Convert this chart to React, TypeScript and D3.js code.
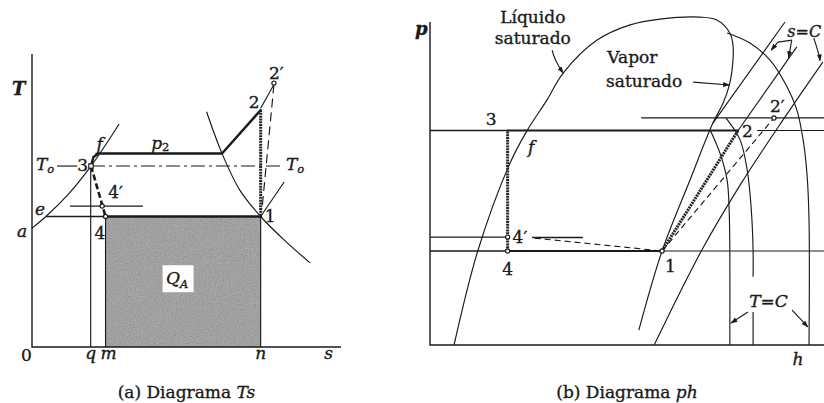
import React from 'react';
import * as d3 from 'd3';

type Pt = [number, number];

// ---------- (a) T-s diagram, entropy s and temperature T in diagram units ----------
const S_Q = 1.9;
const S_M = 2.38;
const S_N = 7.4;
const T_LOW = 4.5;
const T_O = 6.24;
const T_P2 = 6.67;
const T_2 = 8.17;

const tsPt3: Pt = [1.91, 6.24];
const tsPt4: Pt = [2.38, 4.5];
const tsPt4p: Pt = [2.27, 4.86];
const tsPt1: Pt = [7.4, 4.5];
const tsPt2: Pt = [7.4, 8.17];
const tsPt2p: Pt = [7.83, 9.1];
const tsPtE: Pt = [0.45, 4.5];

const tsSatLiquid: Pt[] = [[0, 4.1], [0.45, 4.5], [1.2, 5.3], [1.91, 6.24], [2.4, 7.0], [2.82, 7.69]];
const tsSatVapor: Pt[] = [[5.65, 8.11], [6.15, 6.67], [6.72, 5.42], [7.4, 4.5], [8.2, 3.65], [9.0, 2.9]];
const tsCondenser: Pt[] = [[1.91, 6.24], [1.99, 6.55], [2.15, 6.67], [6.15, 6.67], [7.4, 8.17]];
const tsLowPressure: Pt[] = [[7.4, 4.5], [8.16, 5.69]];
const tsToLine: Pt[] = [[1.91, T_O], [8.12, T_O]];
const tsToStub: Pt[] = [[0.81, T_O], [1.46, T_O]];
const ts4pLine: Pt[] = [[1.23, 4.86], [3.59, 4.86]];
const ts2to2p: Pt[] = [[7.4, 8.23], [7.83, 9.05]];
const ts2pDrop: Pt[] = [[7.83, 9.05], [7.44, 4.72]];

// ---------- (b) p-h diagram, enthalpy h and pressure p in diagram units ----------
const P_HI = 6.64;
const P_2P = 7.03;
const P_LO = 2.91;
const P_4P = 3.34;
const H_34 = 1.97;
const H_1 = 5.89;
const H_2 = 7.82;
const H_2P = 8.73;

const phDome: Pt[] = [
  [0.61, 0], [1.22, 2.94], [2.03, 5.63], [2.46, 6.63], [2.97, 7.59], [3.38, 8.42], [4.24, 9.44],
  [5.08, 9.91], [5.84, 10.09], [6.85, 10.15], [7.28, 10.06], [7.61, 9.66], [7.69, 9.29], [7.69, 8.82],
  [7.61, 8.11], [7.44, 7.49], [7.18, 6.87], [6.6, 5.11], [5.89, 2.91], [5.3, 0.46],
];
const phIsentropeA: Pt[] = [[7.18, 6.87], [9.01, 10.0]];
const phIsentropeB: Pt[] = [[7.82, 6.64], [9.31, 9.23]];
const phIsentropeC: Pt[] = [[5.69, 0], [6.9, 2.94], [7.87, 4.95], [8.96, 6.97], [9.97, 8.76]];
const phIsothermA: Pt[] = [[7.11, 6.66], [7.36, 5.94], [7.54, 5.11], [7.59, 4.27], [7.61, 2.94], [7.61, 0]];
const phIsothermBTop: Pt[] = [[7.51, 7.03], [7.87, 6.35], [8.05, 5.42], [8.15, 4.27], [8.2, 2.94], [8.2, 2.11]];
const phIsothermBBottom: Pt[] = [[8.2, 1.02], [8.2, 0]];
const phIsothermC: Pt[] = [
  [7.54, 9.66], [8.12, 9.35], [8.63, 8.82], [9.01, 8.11], [9.31, 7.28], [9.47, 6.35], [9.57, 5.26], [9.62, 3.87], [9.62, 0],
];
const phCompression: Pt[] = [[H_1, P_LO], [H_2, P_HI]];
const phActualCompression: Pt[] = [[H_1, P_LO], [H_2P, P_2P]];
const phThrottle: Pt[] = [[H_34, P_LO], [H_34, P_HI]];
const ph4pDash: Pt[] = [[2.66, 3.31], [H_1, P_LO]];
const ph4pStub: Pt[] = [[2.59, 3.33], [3.88, 3.33]];

// ---------- scales ----------
const xs = d3.scaleLinear().domain([0, 10]).range([32, 341]);
const ys = d3.scaleLinear().domain([0, 10]).range([347, 57]);
const xp = d3.scaleLinear().domain([0, 10]).range([430, 824]);
const yp = d3.scaleLinear().domain([0, 10]).range([345, 22]);

const tsLine = d3.line<Pt>().x((d) => xs(d[0])).y((d) => ys(d[1]));
const tsCurve = d3.line<Pt>().x((d) => xs(d[0])).y((d) => ys(d[1])).curve(d3.curveCatmullRom.alpha(0.5));
const phLine = d3.line<Pt>().x((d) => xp(d[0])).y((d) => yp(d[1]));
const phCurve = d3.line<Pt>().x((d) => xp(d[0])).y((d) => yp(d[1])).curve(d3.curveCatmullRom.alpha(0.5));

const INK = '#1a1a1a';
const FONT = "'DejaVu Serif', 'Liberation Serif', serif";
const FS = 17;
const SUB = 11.5;

const thin = { fill: 'none', stroke: INK, strokeWidth: 1.15 };
const thick = { fill: 'none', stroke: INK, strokeWidth: 2.4, strokeLinecap: 'round' as const, strokeLinejoin: 'round' as const };
const stipple = { fill: 'none', stroke: '#262626', strokeWidth: 3, strokeDasharray: '2 0.8' };
const dashed = { fill: 'none', stroke: INK, strokeWidth: 1.15, strokeDasharray: '6 4' };

const Dot = ({ x, y }: { x: number; y: number }) => (
  <circle cx={x} cy={y} r={2.1} fill="#fff" stroke={INK} strokeWidth={1.2} />
);

const hseg = (a: number, b: number, y: number): Pt[] => [[a, y], [b, y]];

export default function App() {
  const qaX = (xs(S_M) + xs(S_N)) / 2 - 5;
  const qaY = ys(T_LOW / 2) - 3;
  return (
    <svg
      width={824}
      height={403}
      viewBox="0 0 824 403"
      style={{ position: 'absolute', left: 0, top: 0, background: '#fff' }}
      fontFamily={FONT}
      fill={INK}
    >
      <style>{`text { stroke: ${INK}; stroke-width: 0.35px; }`}</style>
      <defs>
        <marker id="arrow" viewBox="0 0 10 10" refX="9" refY="5" markerWidth="7" markerHeight="7" orient="auto" markerUnits="userSpaceOnUse">
          <path d="M0,1.5 L10,5 L0,8.5 Z" fill={INK} />
        </marker>
        <filter id="grain" x="0" y="0" width="1" height="1">
          <feTurbulence type="fractalNoise" baseFrequency="0.85" numOctaves="2" seed="7" />
          <feColorMatrix type="matrix" values="0.33 0.33 0.33 0 0  0.33 0.33 0.33 0 0  0.33 0.33 0.33 0 0  0 0 0 0 1" />
        </filter>
      </defs>

      {/* ================= (a) T-s ================= */}
      {/* heat absorbed Q_A */}
      <rect x={xs(S_M)} y={ys(T_LOW)} width={xs(S_N) - xs(S_M)} height={ys(0) - ys(T_LOW)} fill="#878787" />
      <rect x={xs(S_M)} y={ys(T_LOW)} width={xs(S_N) - xs(S_M)} height={ys(0) - ys(T_LOW)} filter="url(#grain)" opacity={0.5} />
      <rect x={qaX - 15.5} y={qaY - 13.5} width={31} height={27} fill="#fff" />
      <text x={qaX - 12} y={qaY + 5} fontSize={FS} fontStyle="italic">
        Q<tspan fontSize={SUB} dy={4}>A</tspan>
      </text>
      <path d={tsLine([[S_M, 0], [S_M, T_LOW]])!} {...thin} />
      <path d={tsLine([[S_N, 0], [S_N, T_LOW]])!} {...thin} />

      {/* axes */}
      <path d={tsLine([[0, 10.1], [0, 0], [10, 0]])!} fill="none" stroke={INK} strokeWidth={1.4} />
      <path d={tsLine([[S_Q, 0], [S_Q, T_O]])!} {...thin} />

      {/* saturation curves */}
      <path d={tsCurve(tsSatLiquid)!} {...thin} />
      <path d={tsCurve(tsSatVapor)!} {...thin} />

      {/* isobars and reference lines */}
      <path d={tsLine(hseg(tsPtE[0], S_M, T_LOW))!} {...thin} strokeWidth={1.6} />
      <path d={tsLine(hseg(S_M, S_N, T_LOW))!} {...thick} />
      <path d={tsLine(ts4pLine)!} {...thin} />
      <path d={tsLine(tsLowPressure)!} {...thin} />
      <path d={tsLine(tsToStub)!} {...thin} />
      <path d={tsLine(tsToLine)!} fill="none" stroke={INK} strokeWidth={1.15} strokeDasharray="14 4 3 4" />

      {/* cycle */}
      <path d={tsLine(tsCondenser)!} {...thick} />
      <path d={tsLine([tsPt2, tsPt1])!} {...stipple} />
      <path d={tsLine([tsPt3, tsPt4])!} fill="none" stroke={INK} strokeWidth={2.6} strokeDasharray="6 3" />
      <path d={tsLine(ts2to2p)!} {...thin} />
      <path d={tsLine(ts2pDrop)!} {...dashed} strokeDasharray="9 5" />

      <rect x={xs(tsPt3[0]) - 2.2} y={ys(tsPt3[1]) - 2.2} width={4.4} height={4.4} fill="#fff" stroke={INK} strokeWidth={1.2} />
      <Dot x={xs(tsPt4p[0])} y={ys(tsPt4p[1])} />
      <Dot x={xs(tsPt4[0])} y={ys(tsPt4[1])} />
      <Dot x={xs(tsPt2p[0])} y={ys(tsPt2p[1])} />

      {/* labels */}
      <text x={xs(0) - 20} y={ys(8.7)} fontSize={18} fontStyle="italic" fontWeight="bold">T</text>
      <text x={xs(tsPt3[0]) - 55} y={ys(T_O) + 4} fontSize={FS} fontStyle="italic">
        T<tspan fontSize={SUB} dy={3}>o</tspan>
      </text>
      <text x={xs(tsPt3[0]) - 3} y={ys(T_O) + 5} fontSize={FS} textAnchor="end">3</text>
      <text x={xs(2.15) - 2} y={ys(T_P2) - 4} fontSize={FS} fontStyle="italic">f</text>
      <text x={(xs(2.15) + xs(6.15)) / 2} y={ys(T_P2) - 5} fontSize={FS} fontStyle="italic" textAnchor="middle">
        p<tspan fontSize={SUB} dy={2} fontStyle="normal">2</tspan>
      </text>
      <text x={xs(tsPt4p[0]) + 6} y={ys(tsPt4p[1]) - 8} fontSize={FS}>4′</text>
      <text x={xs(tsPt4[0]) - 11} y={ys(T_LOW) + 22} fontSize={FS}>4</text>
      <text x={xs(tsPtE[0]) - 11} y={ys(T_LOW) - 2} fontSize={FS} fontStyle="italic">e</text>
      <text x={xs(0) - 15} y={ys(4.1) + 9} fontSize={FS} fontStyle="italic">a</text>
      <text x={xs(0) - 11} y={ys(0) + 14} fontSize={FS}>0</text>
      <text x={xs(S_Q)} y={ys(0) + 12} fontSize={FS} fontStyle="italic" textAnchor="middle">q</text>
      <text x={xs(S_M) + 3} y={ys(0) + 12} fontSize={FS} fontStyle="italic" textAnchor="middle">m</text>
      <text x={xs(S_N)} y={ys(0) + 12} fontSize={FS} fontStyle="italic" textAnchor="middle">n</text>
      <text x={xs(9.6)} y={ys(0) + 12} fontSize={FS} fontStyle="italic" textAnchor="middle">s</text>
      <text x={xs(S_N) - 12} y={ys(T_2) - 2} fontSize={FS}>2</text>
      <text x={xs(tsPt2p[0]) - 5} y={ys(tsPt2p[1]) - 4} fontSize={FS}>2′</text>
      <text x={xs(8.12) + 3} y={ys(T_O) + 4} fontSize={FS} fontStyle="italic">
        T<tspan fontSize={SUB} dy={3}>o</tspan>
      </text>
      <text x={xs(S_N) + 4} y={ys(T_LOW) + 5} fontSize={FS}>1</text>
      <text x={xs(5)} y={398} fontSize={17} textAnchor="middle">
        (a) Diagrama <tspan fontStyle="italic">Ts</tspan>
      </text>

      {/* ================= (b) p-h ================= */}
      <path d={phLine([[0, 10], [0, 0], [10, 0]])!} fill="none" stroke={INK} strokeWidth={1.4} />
      <path d={phCurve(phDome)!} {...thin} />
      <path d={phLine(phIsentropeA)!} {...thin} />
      <path d={phLine(phIsentropeB)!} {...thin} />
      <path d={phCurve(phIsentropeC)!} {...thin} />
      <path d={phCurve(phIsothermA)!} {...thin} />
      <path d={phCurve(phIsothermBTop)!} {...thin} />
      <path d={phLine(phIsothermBBottom)!} {...thin} />
      <path d={phCurve(phIsothermC)!} {...thin} />

      {/* isobars */}
      <path d={phLine(hseg(0, H_34, P_HI))!} {...thin} strokeWidth={1.4} />
      <path d={phLine(hseg(H_34, H_2, P_HI))!} {...thick} strokeWidth={2} />
      <path d={phLine(hseg(8.3, 10, P_HI))!} {...thin} />
      <path d={phLine(hseg(5.36, 10, P_2P))!} {...thin} />
      <path d={phLine(hseg(0, H_34, P_4P))!} {...thin} />
      <path d={phLine(hseg(0, H_34, P_LO))!} {...thin} strokeWidth={1.4} />
      <path d={phLine(hseg(H_34, H_1, P_LO))!} {...thick} strokeWidth={2.2} />
      <path d={phLine(hseg(H_1, 10, P_LO))!} {...thin} />

      {/* cycle */}
      <path d={phLine(phThrottle)!} {...stipple} />
      <path d={phLine(phCompression)!} {...stipple} />
      <path d={phLine(phActualCompression)!} {...dashed} />
      <path d={phLine(ph4pDash)!} {...dashed} />
      <path d={phLine(ph4pStub)!} {...thin} strokeWidth={1.6} />

      <Dot x={xp(H_34)} y={yp(P_4P)} />
      <Dot x={xp(H_34)} y={yp(P_LO)} />
      <Dot x={xp(H_1)} y={yp(P_LO)} />
      <Dot x={xp(H_2P)} y={yp(P_2P)} />

      {/* annotation arrows */}
      <path d={`M${xp(3.1)},${yp(9.13)} Q${xp(3.16)},${yp(8.8)} ${xp(3.38)},${yp(8.42)}`} {...thin} markerEnd="url(#arrow)" />
      <path d={phLine([[6.68, 8.14], [7.6, 8.05]])!} {...thin} markerEnd="url(#arrow)" />
      <path d={phLine([[8.83, 9.38], [9.19, 9.44]])!} {...thin} strokeWidth={1.3} />
      <path d={phLine([[8.83, 9.38], [8.66, 9.13]])!} {...thin} markerEnd="url(#arrow)" />
      <path d={phLine([[9.18, 9.42], [9.1, 8.9]])!} {...thin} markerEnd="url(#arrow)" />
      <path d={`M${xp(9.74)},${yp(9.5)} Q${xp(9.88)},${yp(9.0)} ${xp(9.9)},${yp(8.8)}`} {...thin} markerEnd="url(#arrow)" />
      <path d={phLine([[8.07, 1.02], [7.64, 0.68]])!} {...thin} markerEnd="url(#arrow)" />
      <path d={phLine([[9.19, 1.08], [9.59, 0.56]])!} {...thin} markerEnd="url(#arrow)" />

      {/* labels */}
      <text x={xp(0) - 15} y={yp(9.6)} fontSize={18} fontStyle="italic" fontWeight="bold">p</text>
      <text x={xp(2.61)} y={yp(9.97)} fontSize={FS} textAnchor="middle">Líquido</text>
      <text x={xp(2.61)} y={yp(9.32)} fontSize={FS} textAnchor="middle">saturado</text>
      <text x={xp(4.5)} y={yp(8.73)} fontSize={FS}>Vapor</text>
      <text x={xp(4.47)} y={yp(7.99)} fontSize={FS}>saturado</text>
      <text x={xp(1.55)} y={yp(P_HI) - 6} fontSize={FS} textAnchor="middle">3</text>
      <text x={xp(2.46) + 1} y={yp(P_HI) + 22} fontSize={FS} fontStyle="italic">f</text>
      <text x={xp(H_34) + 5} y={yp(P_4P) + 6} fontSize={FS}>4′</text>
      <text x={xp(H_34)} y={yp(P_LO) + 24} fontSize={FS} textAnchor="middle">4</text>
      <text x={xp(H_1) + 3} y={yp(P_LO) + 21} fontSize={FS}>1</text>
      <text x={xp(H_2) + 4} y={yp(P_HI) + 6} fontSize={FS}>2</text>
      <text x={xp(H_2P) - 4} y={yp(P_2P) - 6} fontSize={FS}>2′</text>
      <text x={xp(9.07)} y={yp(9.55)} fontSize={16}>
        <tspan fontStyle="italic">s</tspan>=<tspan fontStyle="italic">C</tspan>
      </text>
      <text x={xp(8.1)} y={yp(1.18)} fontSize={FS}>
        <tspan fontStyle="italic">T</tspan>=<tspan fontStyle="italic">C</tspan>
      </text>
      <text x={xp(9.2)} y={yp(0) + 20} fontSize={FS} fontStyle="italic">h</text>
      <text x={xp(5)} y={398} fontSize={17} textAnchor="middle">
        (b) Diagrama <tspan fontStyle="italic">ph</tspan>
      </text>
    </svg>
  );
}
